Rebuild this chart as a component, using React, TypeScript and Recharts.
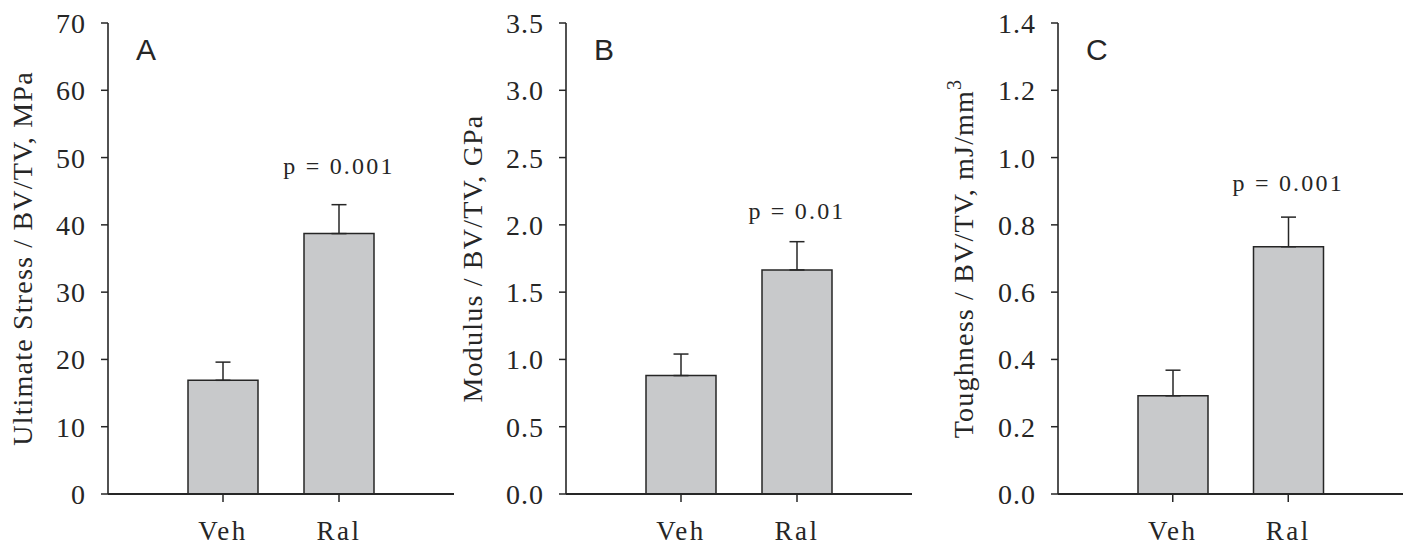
import React from 'react';
import { BarChart, Bar, XAxis, YAxis, ErrorBar, ReferenceDot } from 'recharts';

// ---------- data ----------
const categories = ['Veh', 'Ral'];

const stressMean = [16.9, 38.7];
const stressErr = [2.7, 4.3];

const modulusMean = [0.88, 1.665];
const modulusErr = [0.16, 0.21];

const toughMean = [0.292, 0.735];
const toughErr = [0.076, 0.088];

const stressTicks = [0, 10, 20, 30, 40, 50, 60, 70];
const modulusTicks = [0, 0.5, 1.0, 1.5, 2.0, 2.5, 3.0, 3.5];
const toughTicks = [0, 0.2, 0.4, 0.6, 0.8, 1.0, 1.2, 1.4];

const panelLetters = ['A', 'B', 'C'];
const yTitles = ['Ultimate Stress / BV/TV, MPa', 'Modulus / BV/TV, GPa', 'Toughness / BV/TV, mJ/mm'];
const yTitleSup = ['', '', '3'];
const pTexts = ['p = 0.001', 'p = 0.01', 'p = 0.001'];
const pAnchorValues = [47.6, 2.04, 0.9];

// ---------- styles ----------
const SERIF = "'Liberation Serif', 'Times New Roman', Times, serif";
const SANS = "'Liberation Sans', Arial, sans-serif";
const INK = '#262626';
const BAR_FILL = '#c8c9cb';

type PanelProps = {
  idx: number;
  left: number;
  width: number;
  marginLeft: number;
  marginRight: number;
  means: number[];
  errs: number[];
  ticks: number[];
  decimals: number;
  titleOffset: number;
};

function Panel({ idx, left, width, marginLeft, marginRight, means, errs, ticks, decimals, titleOffset }: PanelProps) {
  const data = categories.map((c, i) => ({ name: c, value: means[i], err: [0, errs[i]] }));
  const letter = panelLetters[idx];
  const title = yTitles[idx];
  const sup = yTitleSup[idx];
  const pText = pTexts[idx];

  const renderTitle = (props: any) => {
    const vb = props.viewBox || {};
    const plotLeft = (vb.x ?? 0) + (vb.width ?? 0);
    const cy = (vb.y ?? 0) + (vb.height ?? 0) / 2;
    const tx = plotLeft - titleOffset;
    return (
      <g>
        <text
          x={tx}
          y={cy}
          transform={`rotate(-90, ${tx}, ${cy})`}
          textAnchor="middle"
          fontFamily={SERIF}
          fontSize={28}
          letterSpacing={1.2}
          fill={INK}
        >
          {title}
          {sup ? (
            <tspan dy={-12} fontSize={20}>
              {sup}
            </tspan>
          ) : null}
        </text>
        <text x={plotLeft + 28} y={(vb.y ?? 0) + 37} fontFamily={SANS} fontSize={30} fill={INK}>
          {letter}
        </text>
      </g>
    );
  };

  const renderP = (props: any) => {
    const vb = props.viewBox || {};
    return (
      <text
        x={(vb.x ?? 0) + (vb.width ?? 0) / 2}
        y={vb.y ?? 0}
        textAnchor="middle"
        fontFamily={SERIF}
        fontSize={24}
        letterSpacing={2.2}
        fill={INK}
      >
        {pText}
      </text>
    );
  };

  return (
    <div style={{ position: 'absolute', left, top: 0, width, height: 546 }}>
      <BarChart
        width={width}
        height={546}
        data={data}
        margin={{ top: 23, right: marginRight, bottom: 12, left: marginLeft }}
      >
        <XAxis
          dataKey="name"
          padding={{ left: 57, right: 57 }}
          height={40}
          interval={0}
          tickSize={8}
          tickMargin={19}
          axisLine={{ stroke: INK, strokeWidth: 2.2 }}
          tickLine={{ stroke: INK, strokeWidth: 1.5 }}
          tick={{ fontFamily: SERIF, fontSize: 27, fill: INK, letterSpacing: 2.5 }}
        />
        <YAxis
          domain={[ticks[0], ticks[ticks.length - 1]]}
          ticks={ticks}
          interval={0}
          width={60}
          tickSize={7}
          tickMargin={15}
          tickFormatter={(v: number) => v.toFixed(decimals)}
          axisLine={{ stroke: INK, strokeWidth: 1.6 }}
          tickLine={{ stroke: INK, strokeWidth: 1.5 }}
          tick={{ fontFamily: SERIF, fontSize: 28, fill: INK, letterSpacing: 1 }}
          label={{ content: renderTitle }}
        />
        <Bar
          dataKey="value"
          barSize={70}
          fill={BAR_FILL}
          stroke={INK}
          strokeWidth={1.5}
          isAnimationActive={false}
        >
          <ErrorBar dataKey="err" direction="y" width={7.5} stroke={INK} strokeWidth={1.5} isAnimationActive={false} />
        </Bar>
        <ReferenceDot
          x={categories[1]}
          y={pAnchorValues[idx]}
          r={0}
          fill="none"
          stroke="none"
          label={renderP}
        />
      </BarChart>
    </div>
  );
}

export default function App() {
  return (
    <div style={{ position: 'absolute', left: 0, top: 0, width: 1410, height: 546, background: '#fff' }}>
      <Panel
        idx={0}
        left={0}
        width={470}
        marginLeft={48}
        marginRight={16}
        means={stressMean}
        errs={stressErr}
        ticks={stressTicks}
        decimals={0}
        titleOffset={76}
      />
      <Panel
        idx={1}
        left={440}
        width={480}
        marginLeft={66}
        marginRight={8}
        means={modulusMean}
        errs={modulusErr}
        ticks={modulusTicks}
        decimals={1}
        titleOffset={84}
      />
      <Panel
        idx={2}
        left={920}
        width={490}
        marginLeft={78}
        marginRight={7}
        means={toughMean}
        errs={toughErr}
        ticks={toughTicks}
        decimals={1}
        titleOffset={85}
      />
    </div>
  );
}
